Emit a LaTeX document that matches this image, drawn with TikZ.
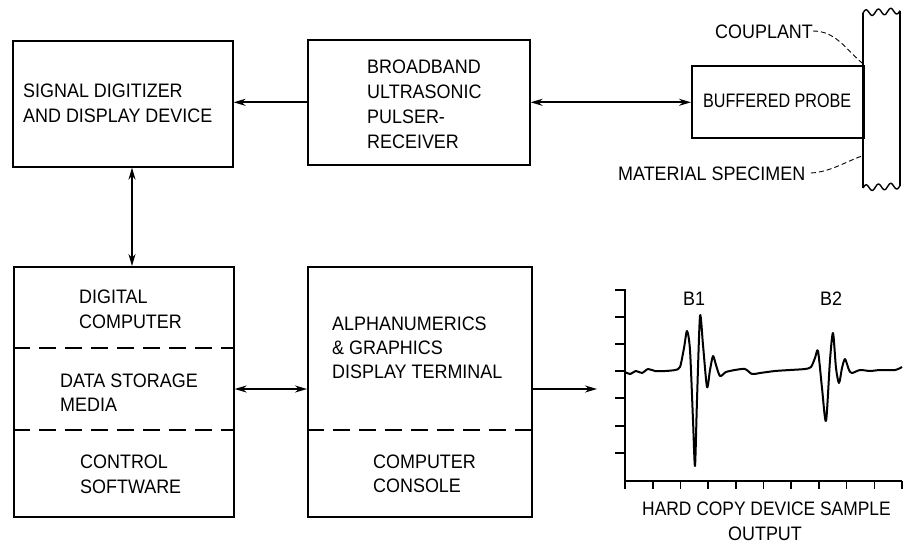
\documentclass[tikz,border=0pt]{standalone}
\usepackage{fontspec}
\usepackage{graphicx}
\setmainfont{Liberation Sans}[FakeStretch=0.92]
\usetikzlibrary{arrows.meta}
\begin{document}
\begin{tikzpicture}[x=1pt,y=-1pt,
  box/.style={draw, line width=1.6pt, inner sep=0pt, anchor=north west},
  lbl/.style={anchor=base west, inner sep=0pt, font=\fontsize{19.5}{24}\selectfont},
  dashline/.style={line width=1.6pt, dash pattern=on 17pt off 9pt},
  conn/.style={line width=1.7pt},
  tip/.style={-{Stealth[length=12pt,width=7pt]}},
  tips/.style={{Stealth[length=12pt,width=7pt]}-{Stealth[length=12pt,width=7pt]}},
  lead/.style={line width=0.9pt, dash pattern=on 5pt off 3pt},
  ax/.style={line width=1.6pt}
]
\useasboundingbox (0,0) rectangle (903,544);

% boxes
\node[box, minimum width=220pt, minimum height=126pt] (box1) at (12,40) {};
\node[box, minimum width=222pt, minimum height=125pt] (box2) at (307,39) {};
\node[box, minimum width=172pt, minimum height=72pt] (probe) at (691,65) {};
\node[box, minimum width=220pt, minimum height=250pt] (box3) at (13,266) {};
\node[box, minimum width=224pt, minimum height=250pt] (box4) at (307,266) {};

% dashed separators
\draw[dashline] (13,348) -- (233,348);
\draw[dashline] (13,430) -- (233,430);
\draw[dashline] (307,430) -- (531,430);

% texts
\node[lbl] (t1a) at (23,97) {SIGNAL DIGITIZER};
\node[lbl] (t1b) at (23,122) {AND DISPLAY DEVICE};
\node[lbl] (t2a) at (367,73) {BROADBAND};
\node[lbl] (t2b) at (367,98) {ULTRASONIC};
\node[lbl] (t2c) at (367,123) {PULSER-};
\node[lbl] (t2d) at (367,148) {RECEIVER};
\node[lbl] (tp) at (703,107) {\scalebox{0.9}[1]{BUFFERED PROBE}};
\node[lbl] (tc) at (715,38) {COUPLANT};
\node[lbl] (tm) at (618,180) {MATERIAL SPECIMEN};
\node[lbl] (t3a) at (79,303) {DIGITAL};
\node[lbl] (t3b) at (79,328) {COMPUTER};
\node[lbl] (t3c) at (60,387) {DATA STORAGE};
\node[lbl] (t3d) at (60,411) {MEDIA};
\node[lbl] (t3e) at (80,468) {CONTROL};
\node[lbl] (t3f) at (80,493) {SOFTWARE};
\node[lbl] (t4a) at (332,330) {ALPHANUMERICS};
\node[lbl] (t4b) at (332,354) {\&\ GRAPHICS};
\node[lbl] (t4c) at (332,378) {DISPLAY TERMINAL};
\node[lbl] (t4d) at (373,468) {COMPUTER};
\node[lbl] (t4e) at (373,492) {CONSOLE};
\node[lbl] (tb1) at (683,305) {B1};
\node[lbl] (tb2) at (820,305) {B2};
\node[lbl] (th1) at (642,515) {\scalebox{0.97}[1]{HARD COPY DEVICE SAMPLE}};
\node[lbl, anchor=base] (th2) at (765,540) {OUTPUT};

% connectors
\coordinate (va) at (132,0);
\coordinate (ha) at (0,389);
\coordinate (gout) at (597,389);
\draw[conn,tip] (box2.west) -- (box1.east |- box2.west);
\draw[conn,tips] (box2.east) -- (probe.west |- box2.east);
\draw[conn,tips] (box1.south -| va) -- (box3.north -| va);
\draw[conn,tips] (box3.east |- ha) -- (box4.west |- ha);
\draw[conn,tip] (box4.east |- ha) -- (gout);

% specimen
\draw[line width=1.6pt] (863,13) -- (863,188);
\draw[line width=1.6pt] (900,11) -- (900,186);
\draw[line width=1.4pt] plot[domain=0:37, samples=60, smooth] ({863+\x},{13-3*sin(\x*360/12.3)-0.06*\x});
\draw[line width=1.4pt] plot[domain=0:37, samples=60, smooth] ({863+\x},{188-3*sin(\x*360/12.3)-0.06*\x});

% leaders
\draw[lead] (813,31) .. controls (835,31) and (845,48) .. (862,63);
\draw[lead] (811,173) .. controls (830,172) and (845,162) .. (862,156);

% graph axes
\draw[ax] (615,290) -- (625,290) -- (625,481) -- (902,481);
\foreach \yy in {317,344,371,398,426,453} \draw[ax] (615,\yy) -- (625,\yy);
\foreach \i in {0,...,10} \draw[ax] ({625+27.7*\i},481) -- ({625+27.7*\i},489);

% signal
\draw[line width=2pt, line join=round] plot[smooth, tension=0.45] coordinates {
(625,372) (630,374) (636,371) (642,373) (648,369) (655,371) (665,371) (675,370)
(680,367) (684,348) (687,331) (690,350) (693,420) (695,466) (697,400) (700,316)
(703,345) (707,387) (710,370) (713,356) (716,365) (720,376) (726,372) (735,370)
(745,369) (752,374) (760,373) (775,371) (790,370) (805,369) (811,367) (815,358)
(818,351) (822,388) (826,421) (830,360) (833,333) (836,368) (839,383) (842,368)
(845,359) (849,370) (852,373) (860,370) (870,371) (880,370) (895,370) (902,367)};
\end{tikzpicture}
\end{document}
